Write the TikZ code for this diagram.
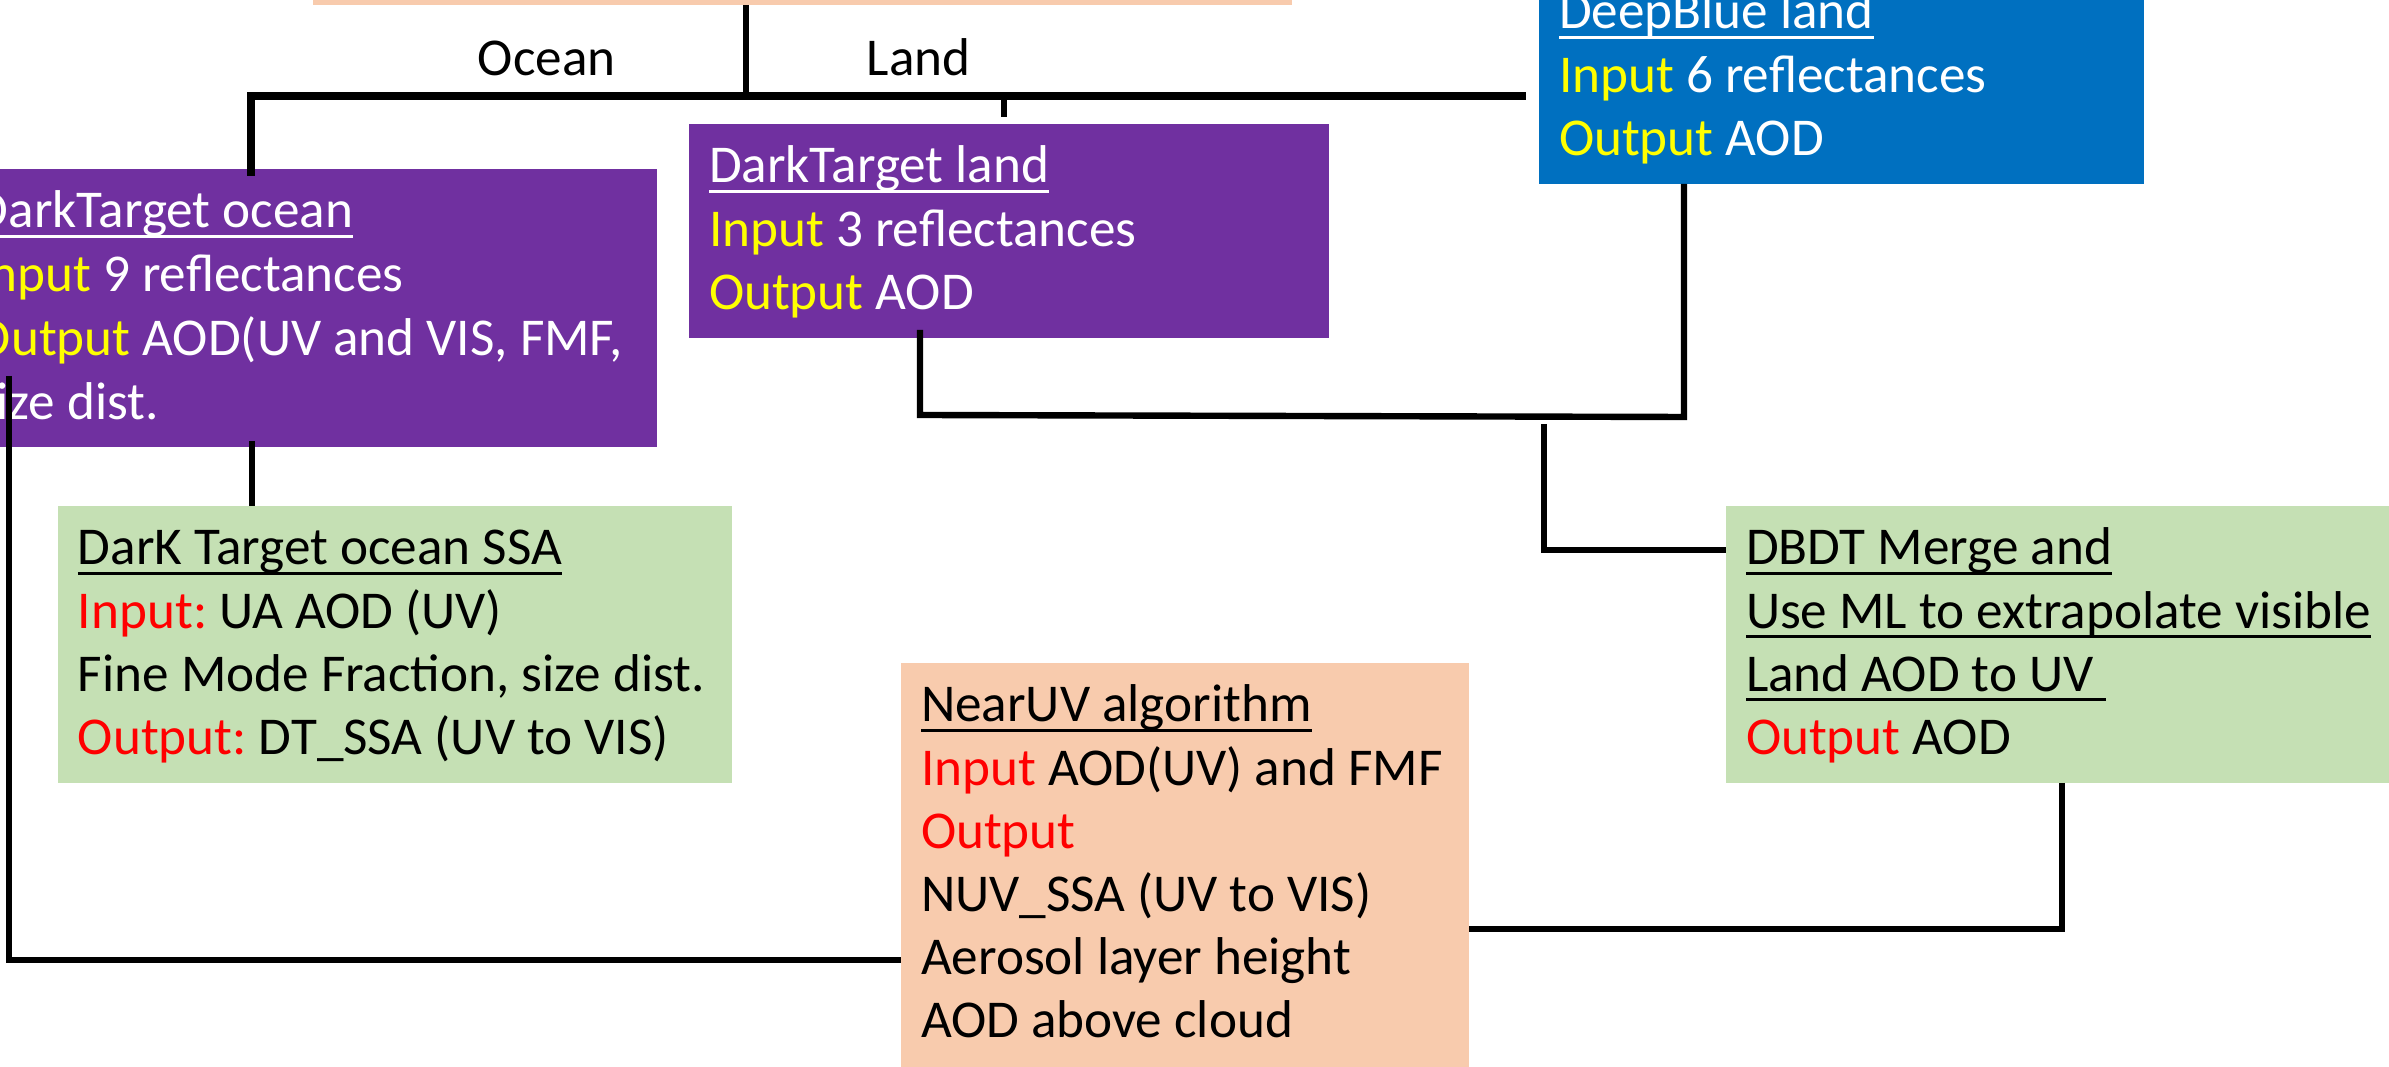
\documentclass[tikz,border=0pt]{standalone}
\usepackage{fontspec}
\setmainfont{Carlito}
\frenchspacing

\definecolor{dtpurple}{HTML}{7030A0}
\definecolor{dbblue}{HTML}{0070C0}
\definecolor{ssagreen}{HTML}{C5E0B4}
\definecolor{nuvpeach}{HTML}{F8CBAD}
\definecolor{hlyellow}{HTML}{FFFF00}
\definecolor{hlred}{HTML}{FF0000}

% underline drawn at a fixed depth under the baseline
\newsavebox\ulbox
\newcommand\ull[1]{\sbox\ulbox{#1}\rlap{\rule[-2.5pt]{\wd\ulbox}{0.8pt}}\usebox\ulbox}
% fixed-size panel: width, height, lines (first baseline 14.75pt below the top)
\newcommand\panel[3]{\parbox[t][#2][t]{#1}{\leftskip=5pt\relax
  \rule{0pt}{14.75pt}#3\par}}
\newcommand\yl[1]{\textcolor{hlyellow}{#1}}
\newcommand\rd[1]{\textcolor{hlred}{#1}}

\tikzset{
  panelbox/.style={inner sep=0pt, outer sep=0pt, anchor=north west},
  wire/.style={draw=black, line width=1.6pt, line join=miter},
  heavy/.style={line width=1.85pt},
  lbl/.style={inner sep=0pt, anchor=base west}
}

\begin{document}
\begin{tikzpicture}[x=0.25pt, y=-0.25pt,
  font=\fontsize{13.3pt}{15.8pt}\selectfont]
\useasboundingbox (0,0) rectangle (2389,1067);
\fill[white] (0,0) rectangle (2389,1067);
\clip (0,0) rectangle (2389,1067);

% boxes
\node[panelbox, fill=nuvpeach, minimum width=244.75pt, minimum height=15pt]
  (root) at (313,-55) {};

\node[panelbox, fill=dtpurple, text=white] (ocean) at (-44,169)
  {\panel{175.25pt}{69.5pt}{\fontsize{13.3pt}{16pt}\selectfont
   \ull{DarkTarget ocean}\\
   \yl{Input} 9 reflectances\\
   \yl{Output} AOD(UV and VIS, FMF,\\
   size dist.}};

\node[panelbox, fill=dtpurple, text=white] (land) at (689,124)
  {\panel{160pt}{53.5pt}{\ull{DarkTarget land}\\
   \yl{Input} 3 reflectances\\
   \yl{Output} AOD}};

\node[panelbox, fill=dbblue, text=white] (deepblue) at (1539,-30)
  {\panel{151.25pt}{53.5pt}{\ull{DeepBlue land}\\
   \yl{Input} 6 reflectances\\
   \yl{Output} AOD}};

\node[panelbox, fill=ssagreen] (ssa) at (58,506)
  {\panel{168.5pt}{69.25pt}{\ull{DarK Target ocean SSA}\\
   \rd{Input:} UA AOD (UV)\\
   Fine Mode Fraction, size dist.\\
   \rd{Output:} DT\_SSA (UV to VIS)}};

\node[panelbox, fill=ssagreen] (dbdt) at (1726,506)
  {\panel{175pt}{69.25pt}{\ull{DBDT Merge and}\\
   \ull{Use ML to extrapolate visible}\\
   \ull{Land AOD to UV~}\\
   \rd{Output} AOD}};

\node[panelbox, fill=nuvpeach] (nuv) at (901,663)
  {\panel{142pt}{105pt}{\ull{NearUV algorithm}\\
   \rd{Input} AOD(UV) and FMF\\
   \rd{Output}\\
   NUV\_SSA (UV to VIS)\\
   Aerosol layer height\\
   AOD above cloud}};

% branch labels
\node[lbl] (oceanlbl) at (477,76) {Ocean};
\node[lbl] (landlbl) at (866,76) {Land};

% junction points
\coordinate (split) at (746,96);
\coordinate (westend) at (251,96);
\coordinate (eastend) at (1526,96);
\coordinate (landtick) at (1004,96);
\coordinate (landtip) at (1004,117);
\coordinate (dtcorner) at (920,415);
\coordinate (dbcorner) at (1684,417);
\coordinate (mergetop) at (1544,424);
\coordinate (mergecorner) at (1544,550);
\coordinate (nuvcorner) at (2062,929);
\coordinate (oceanleft) at (9,376);
\coordinate (oceanlow) at (9,960);
\coordinate (ssadrop) at (252,441);

% connectors
\draw[wire] (root.south -| split) -- (split);
\draw[wire, heavy] ([yshift=-1.75pt]ocean.north -| westend) -- (westend) -- (eastend);
\draw[wire] (landtick) -- (landtip);
\draw[wire] ([yshift=2pt]land.south -| dtcorner) -- (dtcorner) -- (dbcorner)
  -- (deepblue.south -| dbcorner);
\draw[wire] (mergetop) -- (mergecorner) -- (dbdt.west |- mergecorner);
\draw[wire] (nuv.east |- nuvcorner) -- (nuvcorner) -- ([yshift=-2.25pt]nuvcorner |- dbdt.south);
\draw[wire] (dbdt.south -| nuvcorner) -- (nuvcorner);
\draw[wire] (oceanleft) -- (oceanlow) -- (nuv.west |- oceanlow);
\draw[wire] (ssadrop) -- (ssa.north -| ssadrop);
\end{tikzpicture}
\end{document}
